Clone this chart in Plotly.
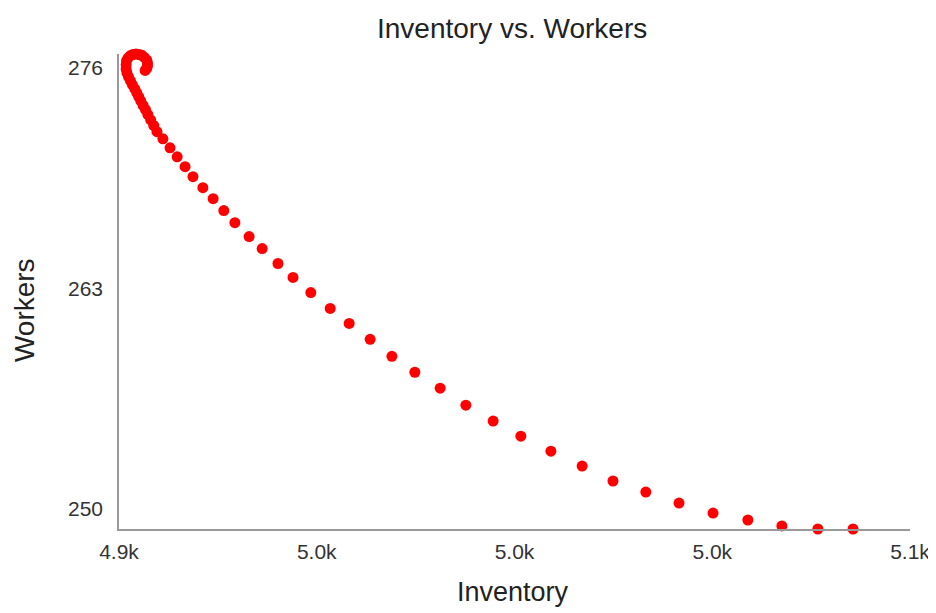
import plotly.graph_objects as go

# Inventory (x) and Workers (y) values
inventory = [5085.6, 5076.7, 5067.6, 5059.0, 5050.2, 5041.6, 5033.2, 5024.9, 5017.1, 5009.2,
             5001.6, 4994.6, 4987.7, 4981.2, 4974.8, 4969.0, 4963.5, 4958.2, 4953.4, 4948.5,
             4944.0, 4940.2, 4936.2, 4932.9, 4929.3, 4926.5, 4923.8, 4921.2, 4918.7, 4916.7,
             4914.7, 4912.9, 4911.1, 4909.6, 4908.8, 4908.0, 4907.3, 4906.7, 4906.1, 4905.5,
             4905.0, 4904.5, 4904.0, 4903.4, 4902.9, 4902.4, 4902.0, 4901.8, 4901.8, 4901.9,
             4902.3, 4902.8, 4903.5, 4904.3, 4905.1, 4905.8, 4906.4, 4907.0, 4907.2, 4907.2,
             4907.0, 4906.6]
workers = [248.82, 248.82, 249.00, 249.35, 249.76, 250.35, 251.00, 251.65, 252.53, 253.41,
           254.29, 255.18, 256.12, 257.12, 258.06, 259.00, 260.00, 260.94, 261.82, 262.76,
           263.65, 264.47, 265.35, 266.06, 266.88, 267.59, 268.29, 268.94, 269.59, 270.18,
           270.76, 271.29, 271.82, 272.24, 272.60, 272.94, 273.25, 273.54, 273.79, 274.06,
           274.29, 274.53, 274.76, 275.00, 275.24, 275.47, 275.71, 275.94, 276.18, 276.41,
           276.59, 276.71, 276.79, 276.82, 276.79, 276.74, 276.62, 276.47, 276.29, 276.12,
           275.97, 275.85]

x_tickvals = [4900, 4950, 5000, 5050, 5100]
x_ticktext = ["4.9k", "5.0k", "5.0k", "5.0k", "5.1k"]
y_tickvals = [250, 263, 276]
y_ticktext = ["250", "263", "276"]

FONT = "Liberation Sans, Arial, sans-serif"

fig = go.Figure()
fig.add_trace(go.Scatter(
    x=inventory, y=workers, mode="markers",
    marker=dict(color="#ff0000", size=11, line=dict(width=0)),
    cliponaxis=False, showlegend=False,
))

fig.update_layout(
    width=936, height=613,
    margin=dict(l=111, r=34, t=46, b=92, autoexpand=False),
    paper_bgcolor="white", plot_bgcolor="white",
    font=dict(family=FONT, color="#333333"),
    title=dict(text="Inventory vs. Workers", x=0.497, xref="paper", xanchor="center",
               y=0.967, yref="container", yanchor="middle",
               font=dict(family=FONT, size=28, color="#222222")),
    xaxis=dict(range=[4900, 5100], tickvals=x_tickvals, ticktext=x_ticktext,
               showgrid=False, zeroline=False, showline=True, linecolor="#999999",
               linewidth=1.5, ticks="", ticklabelstandoff=3, automargin=False,
               ticklabeloverflow="allow",
               tickfont=dict(family=FONT, size=21, color="#333333")),
    yaxis=dict(range=[248.82, 276.82], tickvals=y_tickvals, ticktext=y_ticktext,
               showgrid=False, zeroline=False, showline=True, linecolor="#999999",
               linewidth=1.5, ticks="", ticklabelstandoff=10, automargin=False,
               tickfont=dict(family=FONT, size=21, color="#333333")),
    annotations=[
        dict(text="Inventory", xref="paper", yref="paper", x=0.498, y=-0.133,
             xanchor="center", yanchor="middle", showarrow=False,
             font=dict(family=FONT, size=27, color="#222222")),
        dict(text="Workers", xref="paper", yref="paper", x=-0.12, y=0.461,
             xanchor="center", yanchor="middle", showarrow=False, textangle=-90,
             font=dict(family=FONT, size=28, color="#222222")),
    ],
)

fig.write_html("out.html")
